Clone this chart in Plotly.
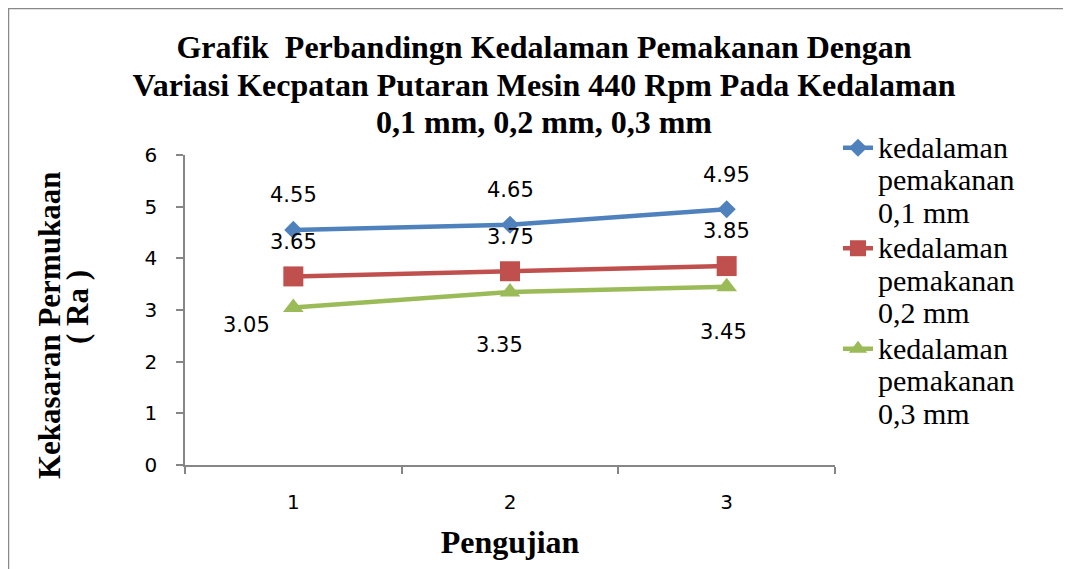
import plotly.graph_objects as go

# ---- data ----
categories = [1, 2, 3]
tick_labels = ["1", "2", "3"]
series_names = [
    ["kedalaman", "pemakanan", "0,1 mm"],
    ["kedalaman", "pemakanan", "0,2 mm"],
    ["kedalaman", "pemakanan", "0,3 mm"],
]
s01 = [4.55, 4.65, 4.95]
s02 = [3.65, 3.75, 3.85]
s03 = [3.05, 3.35, 3.45]
title_lines = [
    "Grafik  Perbandingn Kedalaman Pemakanan Dengan",
    "Variasi Kecpatan Putaran Mesin 440 Rpm Pada Kedalaman",
    "0,1 mm, 0,2 mm, 0,3 mm",
]

# ---- styles ----
colors = ["#4F81BD", "#C0504D", "#9BBB59"]
symbols = ["diamond", "square", "triangle-up"]
msizes = [14, 20, 18]
# label offsets in px (dx, dy) per series / point
label_offsets = [
    [(0, 35), (0, 35), (0, 34)],
    [(0, 34), (0, 34), (0, 35)],
    [(-47, -18), (-11, -53), (-3, -45)],
]

OFF = 8  # page body margin
W, H = 1071 - OFF, 569 - OFF
L, R, T, B = 185 - OFF, 236, 155 - OFF, 104
pw, ph = W - L - R, H - T - B


def px_x(p):  # screen px -> paper x
    return (p - OFF - L) / pw


def px_y(p):  # screen px -> paper y
    return (H - B - (p - OFF)) / ph


def big(txt, size):
    return f'<span style="font-size:{size}px">{txt}</span>'


fig = go.Figure()
all_series = [s01, s02, s03]
for i, vals in enumerate(all_series):
    fig.add_trace(go.Scatter(
        x=categories, y=vals,
        name="<br>".join(big(t, 30) for t in series_names[i]),
        mode="lines+markers",
        line=dict(color=colors[i], width=4.5),
        marker=dict(symbol=symbols[i], size=msizes[i], color=colors[i], line=dict(width=0)),
        cliponaxis=False,
    ))

annotations = []
for i, vals in enumerate(all_series):
    for j, v in enumerate(vals):
        dx, dy = label_offsets[i][j]
        annotations.append(dict(
            x=categories[j], y=v, xref="x", yref="y", text=f"{v:.2f}",
            showarrow=False, xshift=dx, yshift=dy,
            font=dict(family="DejaVu Sans", size=21, color="black"),
        ))

# y-axis title (two lines)
annotations.append(dict(
    x=px_x(49), y=px_y(326), xref="paper", yref="paper", xanchor="center", yanchor="middle",
    text="<b>Kekasaran Permukaan</b>", textangle=-90, showarrow=False,
    font=dict(family="Liberation Serif", size=31, color="black", weight="bold"),
))
annotations.append(dict(
    x=px_x(77), y=px_y(307), xref="paper", yref="paper", xanchor="center", yanchor="middle",
    text="<b>( Ra )</b>", textangle=-90, showarrow=False,
    font=dict(family="Liberation Serif", size=31, color="black", weight="bold"),
))

fig.update_layout(
    width=W, height=H,
    margin=dict(l=L, r=R, t=T, b=B, autoexpand=False),
    paper_bgcolor="white", plot_bgcolor="white",
    title=dict(
        text="<b>" + "<br>".join(big(t, 32) for t in title_lines) + "</b>",
        x=px_x(544), xanchor="center", xref="paper",
        y=1 - 50 / H, yanchor="top", yref="container",
        font=dict(family="Liberation Serif", size=29, color="black"),
    ),
    xaxis=dict(
        range=[0.5, 3.5], tickvals=categories, ticktext=tick_labels,
        ticks="", showgrid=False, zeroline=False,
        showline=True, linecolor="#868686", linewidth=1.5,
        tickfont=dict(family="DejaVu Sans", size=20, color="black"),
        ticklabelstandoff=18,
        minor=dict(tickvals=[0.5, 1.5, 2.5, 3.5], ticks="outside", ticklen=7,
                   tickcolor="#868686", tickwidth=1.5, showgrid=False),
        title=dict(text="<b>Pengujian</b>", standoff=18,
                   font=dict(family="Liberation Serif", size=32, color="black")),
    ),
    yaxis=dict(
        range=[0, 6], tickvals=[0, 1, 2, 3, 4, 5, 6], ticks="outside", ticklen=7,
        tickcolor="#868686", tickwidth=1.5, showgrid=False, zeroline=False,
        showline=True, linecolor="#868686", linewidth=1.5,
        tickfont=dict(family="DejaVu Sans", size=20, color="black"),
        ticklabelstandoff=15,
    ),
    legend=dict(
        x=px_x(838), y=px_y(125), xanchor="left", yanchor="top",
        font=dict(family="Liberation Serif", size=25, color="black"),
        valign="top", bgcolor="rgba(0,0,0,0)", tracegroupgap=0, maxheight=560,
    ),
    showlegend=True,
    annotations=annotations,
    shapes=[dict(
        type="rect", xref="paper", yref="paper",
        x0=px_x(8.5), x1=px_x(1090), y0=px_y(590), y1=px_y(8.5),
        line=dict(color="#898989", width=1.5), fillcolor="rgba(0,0,0,0)", layer="below",
    )],
)

fig.write_html("out.html")
